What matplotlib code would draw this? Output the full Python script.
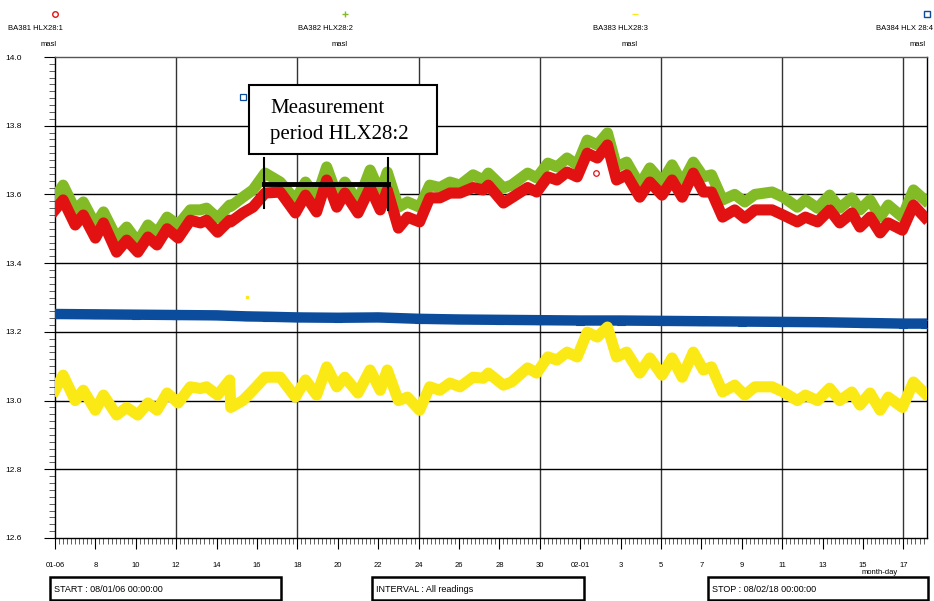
import numpy as np
import matplotlib.pyplot as plt
from matplotlib.patches import Rectangle

# days after 2008-01-06
days = [0.0, 0.4, 1.0, 1.4, 2.0, 2.4, 3.05, 3.55, 4.1, 4.6, 5.05, 5.55, 6.1, 6.7, 7.2, 7.5,
        8.05, 8.65, 8.7, 9.3, 9.8, 10.4, 11.15, 11.9, 12.4, 12.95, 13.45, 13.95, 14.35, 15.0,
        15.6, 16.1, 16.45, 17.0, 17.45, 18.05, 18.55, 19.05, 19.55, 20.05, 20.7, 21.2, 21.45,
        22.2, 22.6, 23.4, 23.85, 24.4, 24.85, 25.35, 25.85, 26.35, 26.85, 27.35, 27.8, 28.3,
        28.95, 29.45, 30.05, 30.55, 31.05, 31.6, 32.1, 32.5, 33.05, 33.65, 34.15, 34.65, 35.5,
        36.05, 36.75, 37.15, 37.75, 38.35, 38.85, 39.45, 39.85, 40.35, 40.85, 41.25, 41.95,
        42.5, 43.05]

hlx1 = [13.555, 13.584, 13.511, 13.54, 13.473, 13.517, 13.432, 13.467, 13.432, 13.476, 13.453,
        13.50, 13.473, 13.525, 13.517, 13.525, 13.49, 13.525, 13.52, 13.546, 13.563, 13.604,
        13.607, 13.546, 13.598, 13.549, 13.642, 13.563, 13.604, 13.546, 13.62, 13.555, 13.613,
        13.502, 13.534, 13.52, 13.59, 13.59, 13.604, 13.604, 13.62, 13.613, 13.627, 13.575,
        13.59, 13.62, 13.607, 13.651, 13.642, 13.665, 13.651, 13.72, 13.706, 13.744, 13.642,
        13.657, 13.592, 13.636, 13.598, 13.642, 13.592, 13.662, 13.607, 13.607, 13.534, 13.555,
        13.531, 13.555, 13.555, 13.54, 13.52, 13.534, 13.52, 13.555, 13.517, 13.546, 13.505,
        13.534, 13.488, 13.517, 13.496, 13.569, 13.534]

hlx2 = [13.59, 13.627, 13.555, 13.578, 13.511, 13.549, 13.473, 13.505, 13.461, 13.511, 13.488,
        13.534, 13.511, 13.555, 13.555, 13.56, 13.531, 13.569, 13.565, 13.592, 13.613, 13.662,
        13.636, 13.584, 13.636, 13.59, 13.68, 13.598, 13.636, 13.578, 13.671, 13.604, 13.665,
        13.563, 13.578, 13.563, 13.627, 13.62, 13.636, 13.627, 13.657, 13.642, 13.662, 13.619,
        13.627, 13.662, 13.648, 13.691, 13.68, 13.706, 13.686, 13.758, 13.744, 13.779, 13.68,
        13.694, 13.627, 13.677, 13.636, 13.686, 13.633, 13.694, 13.651, 13.657, 13.584, 13.60,
        13.578, 13.60, 13.607, 13.592, 13.563, 13.584, 13.56, 13.598, 13.56, 13.59, 13.555,
        13.584, 13.534, 13.569, 13.534, 13.613, 13.584]

hlx3 = [13.03, 13.074, 13.0, 13.03, 12.972, 13.016, 12.958, 12.98, 12.958, 12.993, 12.972,
        13.022, 12.993, 13.04, 13.035, 13.04, 13.016, 13.06, 12.98, 13.0, 13.03, 13.068,
        13.068, 13.01, 13.06, 13.016, 13.098, 13.04, 13.068, 13.022, 13.089, 13.03, 13.089,
        13.0, 13.01, 12.972, 13.04, 13.03, 13.051, 13.04, 13.068, 13.065, 13.08, 13.045,
        13.054, 13.095, 13.08, 13.127, 13.118, 13.141, 13.127, 13.199, 13.185, 13.214, 13.127,
        13.141, 13.08, 13.124, 13.074, 13.124, 13.068, 13.141, 13.089, 13.098, 13.025, 13.045,
        13.016, 13.04, 13.04, 13.025, 13.0, 13.016, 13.0, 13.036, 13.0, 13.025, 12.987,
        13.022, 12.972, 13.01, 12.98, 13.054, 13.022]

blue_days = [0, 2, 4, 6, 8, 9.5, 10.5, 12, 14, 16, 18, 20, 22, 24, 26, 28, 30, 32, 34, 36, 38,
             40, 42, 43.05]
hlx4 = [13.252, 13.251, 13.25, 13.249, 13.248, 13.245, 13.244, 13.242, 13.241, 13.242, 13.238,
        13.236, 13.235, 13.234, 13.233, 13.233, 13.232, 13.231, 13.23, 13.229, 13.228, 13.226,
        13.224, 13.224]

xtick_days = list(range(0, 43, 2))
xtick_labels = ['01-06', '8', '10', '12', '14', '16', '18', '20', '22', '24', '26', '28', '30',
                '02-01', '3', '5', '7', '9', '11', '13', '15', '17']

RED = '#e31212'
GREEN = '#82bb26'
YELLOW = '#fbe916'
BLUE = '#0b4c9d'

plt.rcParams['font.family'] = ['Liberation Sans', 'DejaVu Sans']

fig = plt.figure(figsize=(9.34, 6.01), dpi=100)
ax = fig.add_axes([55 / 934, 63 / 601, 872 / 934, 481 / 601])

ax.plot(days, hlx2, color=GREEN, lw=8, solid_joinstyle='round', zorder=3)
ax.plot(days, hlx1, color=RED, lw=8, solid_joinstyle='round', zorder=4)
ax.plot(blue_days, hlx4, color=BLUE, lw=7.5, zorder=3)
ax.plot(blue_days, hlx4, ls='none', marker='s', ms=5.5, mfc='none', mec=BLUE, mew=0.8, zorder=3)
ax.plot(days, hlx3, color=YELLOW, lw=8, solid_joinstyle='round', zorder=3)

# stray readings
ax.plot([9.3], [13.884], ls='none', marker='s', ms=4, mfc='none', mec=BLUE, mew=0.9, zorder=5)
ax.plot([26.8], [13.662], ls='none', marker='o', ms=4, mfc='none', mec=RED, mew=0.9, zorder=5)
ax.plot([9.5], [13.30], ls='none', marker='s', ms=2, color=YELLOW, zorder=5)

ax.set_xlim(0, 43.17)
ax.set_ylim(12.6, 14.0)

ax.set_yticks(np.arange(12.6, 14.01, 0.2))
ax.set_yticklabels(['12.6', '12.8', '13.0', '13.2', '13.4', '13.6', '13.8', '14.0'])
ax.set_yticks(np.arange(12.6, 14.001, 0.02), minor=True)
ax.set_xticks(xtick_days)
ax.set_xticklabels(xtick_labels)
ax.set_xticks(np.arange(0, 43.1, 0.2), minor=True)
ax.tick_params(axis='both', which='major', length=8, width=0.8, labelsize=5.5, colors='black')
ax.tick_params(axis='y', which='major', pad=16, labelsize=6)
ax.tick_params(axis='x', which='major', pad=9)
ax.tick_params(axis='both', which='minor', length=4, width=0.6, color='#444444')

for d in range(6, 43, 6):
    ax.axvline(d, color='#333333', lw=1, zorder=1)
for v in [12.8, 13.0, 13.2, 13.4, 13.6, 13.8]:
    ax.axhline(v, color='black', lw=1, zorder=1)

for s in ax.spines.values():
    s.set_linewidth(1)
ax.spines['top'].set_color('#555555')

# measurement period marker
ax.plot([10.35, 16.5], [13.63, 13.63], color='black', lw=3.5, zorder=6)
ax.plot([10.35, 10.35], [13.56, 13.705], color='black', lw=1.5, zorder=6)
ax.plot([16.5, 16.5], [13.555, 13.705], color='black', lw=1.5, zorder=6)
fig.patches.append(Rectangle((249 / 934, 1 - 154 / 601), 188 / 934, 69 / 601,
                             transform=fig.transFigure, fc='white', ec='black', lw=1.5,
                             zorder=7))
fig.text(270 / 934, 1 - 108 / 601, 'Measurement', family='Liberation Serif', fontsize=15,
         va='center', ha='left', zorder=8)
fig.text(270 / 934, 1 - 134 / 601, 'period HLX28:2', family='Liberation Serif', fontsize=15,
         va='center', ha='left', zorder=8)

# header
fs = 5.5
heads = [('BA381 HLX28:1', 35, 55, 49, 'o', RED),
         ('BA382 HLX28:2', 325, 345, 340, '+', GREEN),
         ('BA383 HLX28:3', 620, 635, 630, '_', YELLOW),
         ('BA384 HLX 28:4', 905, 927, 918, 's', BLUE)]
for name, tx, mx, ux, mk, col in heads:
    fig.text(tx / 934, 1 - 28 / 601, name, fontsize=fs, ha='center', va='center')
    fig.text(ux / 934, 1 - 45 / 601, 'masl', fontsize=fs, ha='center', va='center')
    hx = fig.add_axes([mx / 934 - 0.005, 1 - 14 / 601 - 0.008, 0.01, 0.016])
    hx.plot([0], [0], marker=mk, ms=4, mfc='none', mec=col, mew=1, color=col)
    hx.axis('off')

fig.text(880 / 934, 1 - 573 / 601, 'month-day', fontsize=fs, ha='center', va='center')

# footer boxes
boxes = [(50, 281, 'START : 08/01/06 00:00:00'),
         (372, 584, 'INTERVAL : All readings'),
         (708, 928, 'STOP : 08/02/18 00:00:00')]
for x0, x1, txt in boxes:
    fig.patches.append(Rectangle((x0 / 934, 1 / 601), (x1 - x0) / 934, 23 / 601,
                                 transform=fig.transFigure, fill=False, ec='black', lw=1.8))
    fig.text((x0 + 4) / 934, 1 - 590 / 601, txt, fontsize=6.5, ha='left', va='center')

fig.savefig('out.png', dpi=100)
